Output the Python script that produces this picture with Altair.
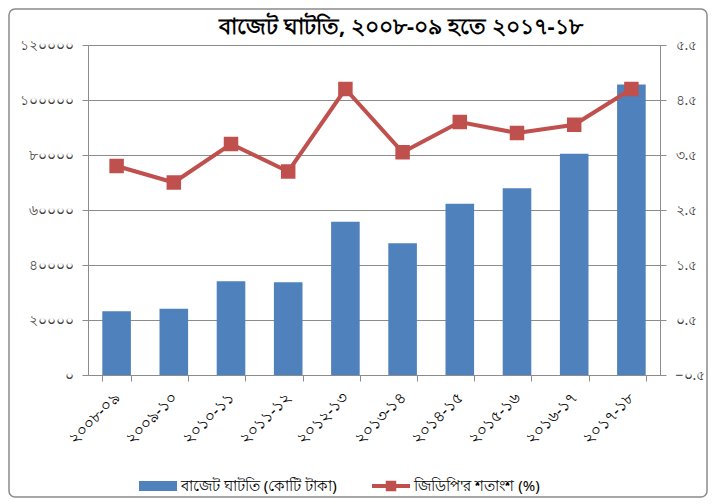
import altair as alt
import pandas as pd

years = ["২০০৮-০৯", "২০০৯-১০", "২০১০-১১", "২০১১-১২", "২০১২-১৩",
         "২০১৩-১৪", "২০১৪-১৫", "২০১৫-১৬", "২০১৬-১৭", "২০১৭-১৮"]
deficit = [23200, 24100, 34100, 33700, 55700, 47900, 62300, 67900, 80500, 105600]
gdp_pct = [3.3, 3.0, 3.7, 3.2, 4.7, 3.55, 4.1, 3.9, 4.05, 4.7]
title_text = ["বাজেট ঘাটতি, ২০০৮-০৯ হতে ২০১৭-১৮"]
bar_label = ["বাজেট ঘাটতি (কোটি টাকা)"]
line_label = ["জিডিপি'র শতাংশ (%)"]
left_ticks = [0, 20000, 40000, 60000, 80000, 100000, 120000]
right_ticks = [-0.5, 0.5, 1.5, 2.5, 3.5, 4.5, 5.5]

W, H = 572, 330
FONT = "Noto Sans"
BLUE = "#4F81BD"
RED = "#C0504D"
GRID = "#8c8c8c"

bn_digits = "০১২৩৪৫৬৭৮৯"


def bn(expr):
    for i, d in enumerate(bn_digits):
        expr = f"replace({expr}, regexp('{i}', 'g'), '{d}')"
    return expr


df = pd.DataFrame({"year": years, "deficit": deficit, "pct": gdp_pct})

x_enc = alt.X(
    "year:N", sort=years,
    scale=alt.Scale(domain=years, paddingInner=0.5, paddingOuter=0.25),
    axis=alt.Axis(title=None, labelAngle=-45, labelAlign="right",
                  labelBaseline="middle", tickBand="extent", tickSize=6,
                  labelPadding=14, grid=False, labelFontSize=16,
                  labelColor="#000000", domainColor=GRID, tickColor=GRID,
                  labelFont=FONT),
)

bars = alt.Chart(df).mark_bar(color=BLUE).encode(
    x=x_enc,
    y=alt.Y("deficit:Q", scale=alt.Scale(domain=[0, 120000]),
            axis=alt.Axis(title=None, orient="left", values=left_ticks,
                          format="d", labelExpr=bn("datum.label"),
                          grid=True, gridColor=GRID, domainColor=GRID,
                          tickColor=GRID, tickSize=6, labelPadding=9,
                          labelFontSize=14, labelColor="#404040",
                          labelFont=FONT)),
)

y_right = alt.Y("pct:Q", scale=alt.Scale(domain=[-0.5, 5.5]),
                axis=alt.Axis(title=None, orient="right", values=right_ticks,
                              format=".1f", labelExpr=bn("datum.label"),
                              grid=False, domainColor=GRID, tickColor=GRID,
                              tickSize=6, labelPadding=9, labelFontSize=14,
                              labelColor="#404040", labelFont=FONT))

line = alt.Chart(df).mark_line(color=RED, strokeWidth=4).encode(
    x=alt.X("year:N", sort=years), y=y_right)
pts = alt.Chart(df).mark_point(shape="square", filled=True, size=210,
                               color=RED, opacity=1).encode(
    x=alt.X("year:N", sort=years), y=y_right)

one = pd.DataFrame({"k": [0]})

frame = alt.Chart(one).mark_rect(fillOpacity=0, stroke="#8a8a8a",
                                 strokeWidth=1.5, cornerRadius=6).encode(
    x=alt.value(-79), x2=alt.value(619), y=alt.value(-36), y2=alt.value(452))

title = alt.Chart(pd.DataFrame({"t": title_text})).mark_text(
    font=FONT, fontSize=22, fontWeight="bold", color="#000000",
    align="center", baseline="middle").encode(
    text="t:N", x=alt.value(313), y=alt.value(-18))

leg_rect = alt.Chart(one).mark_rect(color=BLUE).encode(
    x=alt.value(51), x2=alt.value(89), y=alt.value(436), y2=alt.value(446))
leg_text1 = alt.Chart(pd.DataFrame({"t": bar_label})).mark_text(
    font=FONT, fontSize=15, color="#000000", align="left",
    baseline="middle").encode(text="t:N", x=alt.value(93), y=alt.value(441))
leg_rule = alt.Chart(one).mark_rule(color=RED, strokeWidth=4).encode(
    x=alt.value(284), x2=alt.value(322), y=alt.value(441))
leg_pt = alt.Chart(one).mark_point(shape="square", filled=True, size=110,
                                   color=RED, opacity=1).encode(
    x=alt.value(303), y=alt.value(441))
leg_text2 = alt.Chart(pd.DataFrame({"t": line_label})).mark_text(
    font=FONT, fontSize=15, color="#000000", align="left",
    baseline="middle").encode(text="t:N", x=alt.value(326), y=alt.value(441))

left = alt.layer(frame, bars, title, leg_rect, leg_text1, leg_rule, leg_pt,
                 leg_text2)
right = alt.layer(line, pts)

chart = alt.layer(left, right).resolve_scale(y="independent").properties(
    width=W, height=H,
    autosize=alt.AutoSizeParams(type="none"),
    padding={"left": 80, "top": 37, "right": 50, "bottom": 125},
).configure_view(stroke=None)

chart.save("out.html", embed_options={"renderer": "svg", "actions": False})
